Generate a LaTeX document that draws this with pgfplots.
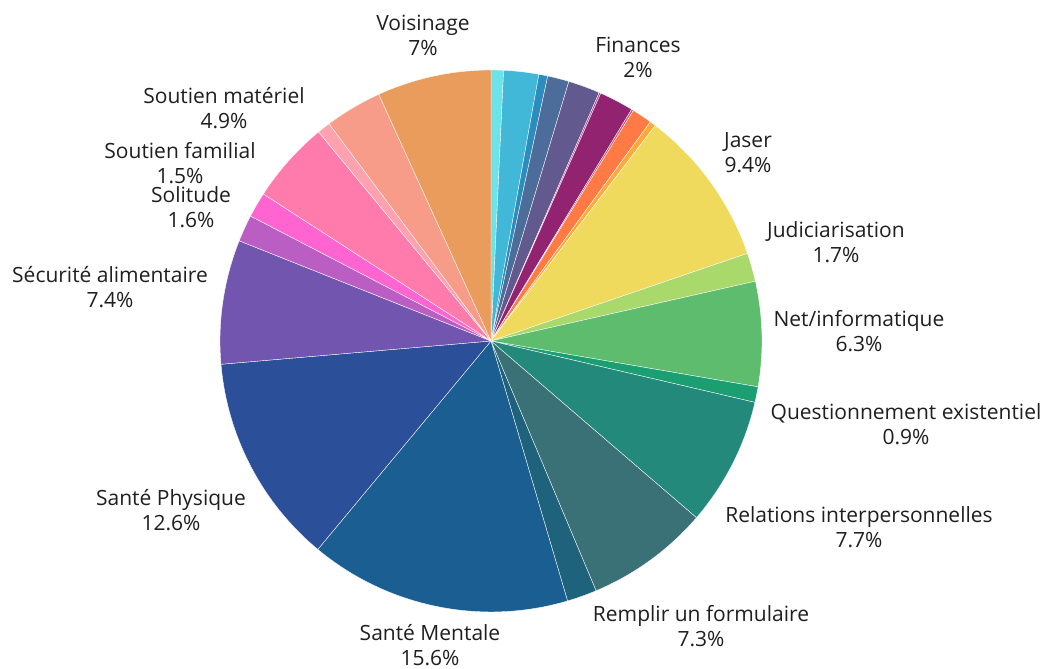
\documentclass[border=0pt]{standalone}
\usepackage{pgfplots}
\usepackage{pgfplotstable}
\pgfplotsset{compat=1.18}
\usepackage{fontspec}
\setmainfont{Open Sans}

\definecolor{s1}{HTML}{6CE3E8}
\definecolor{s2}{HTML}{42B8D8}
\definecolor{s3}{HTML}{2B8DBE}
\definecolor{s4}{HTML}{4C6D99}
\definecolor{s5}{HTML}{62598E}
\definecolor{s6}{HTML}{B5478F}
\definecolor{s7}{HTML}{922370}
\definecolor{s8}{HTML}{D9506A}
\definecolor{s9}{HTML}{FF7A45}
\definecolor{s10}{HTML}{FFAA38}
\definecolor{s11}{HTML}{EFDA5D}
\definecolor{s12}{HTML}{A9D86B}
\definecolor{s13}{HTML}{5DBC6E}
\definecolor{s14}{HTML}{1A9E72}
\definecolor{s15}{HTML}{23897B}
\definecolor{s16}{HTML}{3A7176}
\definecolor{s17}{HTML}{1E627C}
\definecolor{s18}{HTML}{1B5E91}
\definecolor{s19}{HTML}{2B4F99}
\definecolor{s20}{HTML}{7255AE}
\definecolor{s21}{HTML}{BA5EC3}
\definecolor{s22}{HTML}{FF64D0}
\definecolor{s23}{HTML}{FF7BAC}
\definecolor{s24}{HTML}{FFA1AE}
\definecolor{s25}{HTML}{F69C88}
\definecolor{s26}{HTML}{EA9C5C}

% slices clockwise from 12 o'clock, value in percent
\pgfplotstableread{
value color
0.74 s1
2.09 s2
0.53 s3
1.28 s4
1.90 s5
0.10 s6
2.05 s7
0.12 s8
1.20 s9
0.36 s10
9.40 s11
1.70 s12
6.25 s13
0.93 s14
7.67 s15
7.36 s16
1.78 s17
15.60 s18
12.60 s19
7.40 s20
1.60 s21
1.50 s22
4.90 s23
0.78 s24
3.40 s25
6.80 s26
}\piedata

\begin{document}
\begin{tikzpicture}
\begin{axis}[
  hide axis,
  scale only axis,
  width=1045pt, height=667pt,
  xmin=-491, xmax=554,
  ymin=-326, ymax=341,
  clip=false,
]
\path (rel axis cs:0,0) rectangle (rel axis cs:1,1);
\pgfplotstablegetrowsof{\piedata}
\pgfmathtruncatemacro\N{\pgfplotsretval-1}
\def\cum{0}
\def\tot{100.04}
\pgfplotsforeachungrouped \i in {0,...,\N}{%
  \pgfplotstablegetelem{\i}{value}\of\piedata
  \let\v\pgfplotsretval
  \pgfplotstablegetelem{\i}{color}\of\piedata
  \let\c\pgfplotsretval
  \pgfmathsetmacro\s{90-\cum/\tot*360}%
  \pgfmathsetmacro\e{90-(\cum+\v)/\tot*360}%
  \pgfmathsetmacro\xs{271*cos(\s)}%
  \pgfmathsetmacro\ys{271*sin(\s)}%
  \edef\temp{\noexpand\fill[\c, draw=white, line width=0.35pt] (axis cs:0,0) -- (axis cs:\xs,\ys) arc[start angle=\s, end angle=\e, radius=271pt] -- cycle;}%
  \temp
  \pgfmathsetmacro\cum{\cum+\v}%
}

\tikzset{lab/.style={align=center, font=\fontsize{21}{25}\selectfont, text=black!88}}
\node[lab] at (axis cs:-68,306) {Voisinage\\7\%};
\node[lab] at (axis cs:147,284) {Finances\\2\%};
\node[lab] at (axis cs:257,188) {Jaser\\9.4\%};
\node[lab] at (axis cs:345,99) {Judiciarisation\\1.7\%};
\node[lab] at (axis cs:368,10) {Net/informatique\\6.3\%};
\node[lab] at (axis cs:415,-83) {Questionnement existentiel\\0.9\%};
\node[lab] at (axis cs:368,-186) {Relations interpersonnelles\\7.7\%};
\node[lab] at (axis cs:210,-285) {Remplir un formulaire\\7.3\%};
\node[lab] at (axis cs:-61,-304) {Santé Mentale\\15.6\%};
\node[lab] at (axis cs:-320,-169) {Santé Physique\\12.6\%};
\node[lab] at (axis cs:-381,54) {Sécurité alimentaire\\7.4\%};
\node[lab] at (axis cs:-300,134) {Solitude\\1.6\%};
\node[lab] at (axis cs:-311,178) {Soutien familial\\1.5\%};
\node[lab] at (axis cs:-267,233) {Soutien matériel\\4.9\%};
\end{axis}
\end{tikzpicture}
\end{document}
